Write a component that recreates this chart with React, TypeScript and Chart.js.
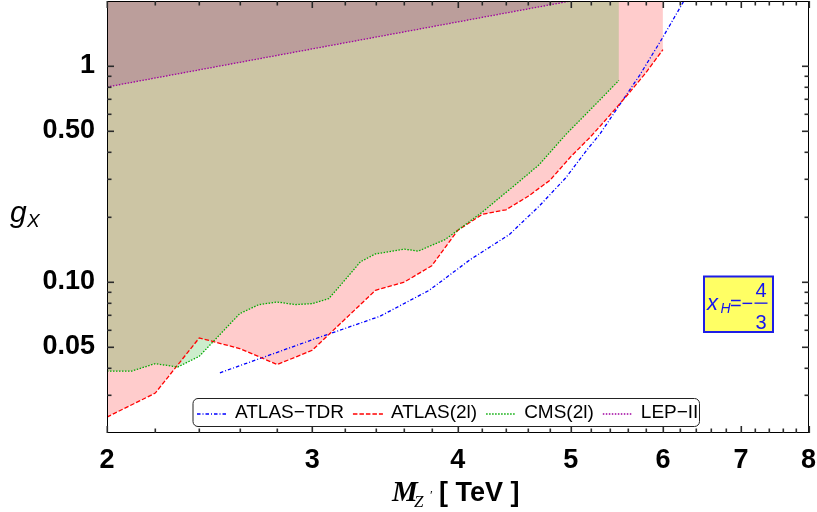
import React, { useEffect, useRef } from "react";
import { Chart, registerables } from "chart.js";
Chart.register(...registerables);

// ---- data ----
const tdrM = [2.5, 3.0, 3.43, 3.78, 4.1, 4.43, 4.7, 4.95, 5.16, 5.3, 5.5, 5.73, 6.0, 6.24, 6.27];
const tdrG = [0.038, 0.054, 0.0694, 0.0915, 0.127, 0.166, 0.225, 0.303, 0.407, 0.486, 0.654, 0.906, 1.36, 1.96, 2.06];

const atlasM = [2.0, 2.2, 2.4, 2.6, 2.8, 3.0, 3.4, 3.6, 3.8, 4.0, 4.2, 4.4, 4.6, 4.8, 5.0, 5.2, 5.4, 5.6, 5.8, 6.0];
const atlasG = [0.0237, 0.0306, 0.0551, 0.0492, 0.0415, 0.0483, 0.0916, 0.1, 0.119, 0.1735, 0.206, 0.216, 0.25, 0.296, 0.38, 0.47, 0.59, 0.74, 0.93, 1.19];

const cmsM = [2.0, 2.1, 2.2, 2.3, 2.4, 2.6, 2.7, 2.8, 2.9, 3.0, 3.1, 3.2, 3.3, 3.4, 3.6, 3.7, 3.8, 3.9, 4.0, 4.2, 4.35, 4.5, 4.7, 4.96, 5.26, 5.5];
const cmsG = [0.0387, 0.0387, 0.0419, 0.0404, 0.0453, 0.0714, 0.0786, 0.0808, 0.0786, 0.0794, 0.0838, 0.102, 0.124, 0.135, 0.142, 0.139, 0.148, 0.157, 0.1735, 0.211, 0.247, 0.287, 0.35, 0.486, 0.67, 0.858];

const lepM = [2.0, 5.0];
const lepG = [0.8, 2.0];

const seriesLabels = ["ATLAS\u2212TDR", "ATLAS(2l)", "CMS(2l)", "LEP\u2212II"];

const xMajorTicks = [2, 3, 4, 5, 6, 7, 8];
const xTickLabels = ["2", "3", "4", "5", "6", "7", "8"];
const xMinorTicks = [2.2, 2.4, 2.6, 2.8, 3.2, 3.4, 3.6, 3.8, 4.2, 4.4, 4.6, 4.8, 5.2, 5.4, 5.6, 5.8, 6.2, 6.4, 6.6, 6.8, 7.2, 7.4, 7.6, 7.8];
const yMajorTicks = [0.05, 0.1, 0.5, 1];
const yTickLabels = ["0.05", "0.10", "0.50", "1"];
const yMinorTicks = [0.03, 0.04, 0.06, 0.07, 0.08, 0.09, 0.2, 0.3, 0.4, 0.6, 0.7, 0.8, 0.9];

const xRange = [2, 8];
const yRange = [0.02, 2.0];

const pts = (xs: number[], ys: number[]) => xs.map((x, i) => ({ x, y: ys[i] }));

// order: controls fill stacking (ATLAS fill first, then CMS, then LEP)
const lineStyles = [
  { color: "rgb(0,0,255)", dash: [3.5, 2, 1, 2], fill: "", order: 3 },
  { color: "rgb(255,0,0)", dash: [4.5, 2], fill: "rgba(255,0,0,0.2)", order: 2 },
  { color: "rgb(0,170,0)", dash: [1.5, 1.5], fill: "rgba(0,165,0,0.2)", order: 1 },
  { color: "rgb(160,0,160)", dash: [1.5, 1.5], fill: "rgba(115,0,115,0.2)", order: 0 },
];

const pixelOf = (scale: any, v: number): number => {
  let p = Number(scale.getPixelForValue(v));
  if (!isFinite(p)) {
    p = scale.left + (scale.right - scale.left) * Math.log(v / scale.min) / Math.log(scale.max / scale.min);
  }
  return p;
};

const decorPlugin = {
  id: "decor",
  afterDraw(chart: any) {
    const { ctx, chartArea, scales } = chart;
    const left = Math.round(chartArea.left);
    const right = Math.round(chartArea.right);
    const top = Math.round(chartArea.top);
    const bottom = Math.round(chartArea.bottom);
    const xs = scales.x;
    const ys = scales.y;
    ctx.save();
    ctx.setLineDash([]);
    ctx.globalAlpha = 1;
    ctx.globalCompositeOperation = "source-over";
    // frame
    ctx.fillStyle = "#000";
    ctx.fillRect(left, top, right - left, 1);
    ctx.fillRect(left, bottom - 1, right - left, 1);
    ctx.fillRect(left, top, 1, bottom - top);
    ctx.fillRect(right - 1, top, 1, bottom - top);
    // ticks (inward, mirrored)
    ctx.fillStyle = "#2a2a2a";
    const xt = (v: number, len: number) => {
      const p = Math.round(pixelOf(xs, v));
      ctx.fillRect(p - 0.5, bottom - len, 1.6, len);
      ctx.fillRect(p - 0.5, top, 1.6, len);
    };
    const yt = (v: number, len: number) => {
      const p = Math.round(pixelOf(ys, v));
      ctx.fillRect(left, p - 0.5, len, 1.6);
      ctx.fillRect(right - len, p - 0.5, len, 1.6);
    };
    xMajorTicks.forEach((v) => xt(v, 7));
    xMinorTicks.forEach((v) => xt(v, 4.5));
    yMajorTicks.forEach((v) => yt(v, 7));
    yMinorTicks.forEach((v) => yt(v, 4.5));

    // legend
    const lx = 193, ly = 398.5, lw = 506.5, lh = 28, r = 5;
    ctx.beginPath();
    ctx.moveTo(lx + r, ly);
    ctx.lineTo(lx + lw - r, ly);
    ctx.arcTo(lx + lw, ly, lx + lw, ly + r, r);
    ctx.lineTo(lx + lw, ly + lh - r);
    ctx.arcTo(lx + lw, ly + lh, lx + lw - r, ly + lh, r);
    ctx.lineTo(lx + r, ly + lh);
    ctx.arcTo(lx, ly + lh, lx, ly + lh - r, r);
    ctx.lineTo(lx, ly + r);
    ctx.arcTo(lx, ly, lx + r, ly, r);
    ctx.closePath();
    ctx.fillStyle = "#fff";
    ctx.fill();
    ctx.strokeStyle = "#222";
    ctx.lineWidth = 1;
    ctx.stroke();
    ctx.font = '19px "Liberation Sans"';
    ctx.textBaseline = "alphabetic";
    ctx.textAlign = "left";
    let cx = 197;
    chart.data.datasets.forEach((ds: any, i: number) => {
      ctx.strokeStyle = lineStyles[i].color;
      ctx.lineWidth = 1.3;
      ctx.setLineDash(lineStyles[i].dash);
      ctx.beginPath();
      ctx.moveTo(cx, 414);
      ctx.lineTo(cx + 30, 414);
      ctx.stroke();
      ctx.setLineDash([]);
      ctx.fillStyle = "#000";
      ctx.fillText(ds.label, cx + 38, 417.5);
      cx += 38 + ctx.measureText(ds.label).width + 9;
    });

    // x_H annotation box
    ctx.fillStyle = "rgb(255,255,100)";
    ctx.fillRect(704, 276.5, 69, 55.5);
    ctx.strokeStyle = "rgb(30,30,230)";
    ctx.lineWidth = 2;
    ctx.strokeRect(704, 276.5, 69, 55.5);
    ctx.fillStyle = "rgb(20,20,240)";
    ctx.font = 'italic 22px "Liberation Sans"';
    ctx.fillText("x", 707, 310);
    ctx.font = 'italic 14px "Liberation Sans"';
    ctx.fillText("H", 720.5, 313);
    ctx.font = '20px "Liberation Sans"';
    ctx.fillText("=", 730, 310);
    ctx.fillText("\u2212", 741.5, 310);
    ctx.textAlign = "center";
    ctx.fillText("4", 761, 297);
    ctx.fillText("3", 761, 328.5);
    ctx.fillRect(754.5, 302.5, 13, 1.3);

    // axis titles
    ctx.textAlign = "left";
    ctx.fillStyle = "#000";
    ctx.font = 'italic 30px "Liberation Sans"';
    ctx.fillText("g", 10, 222);
    ctx.font = 'italic 19px "Liberation Sans"';
    ctx.fillText("X", 27, 226.7);

    ctx.font = 'bold italic 29px "Liberation Serif"';
    ctx.fillText("M", 392, 500.7);
    ctx.font = 'italic 17px "Liberation Serif"';
    ctx.fillText("Z", 414, 507);
    ctx.font = '13px "Liberation Serif"';
    ctx.fillText("\u2032", 430, 499);
    ctx.font = 'bold 27px "Liberation Sans"';
    ctx.fillText("[ TeV ]", 439, 500.7);
    ctx.restore();
  },
};

export default function App() {
  const ref = useRef<HTMLCanvasElement>(null);
  useEffect(() => {
    if (!ref.current) return;
    Chart.defaults.font.family = '"Liberation Sans", Arial, sans-serif';
    const seriesData = [pts(tdrM, tdrG), pts(atlasM, atlasG), pts(cmsM, cmsG), pts(lepM, lepG)];
    const chart = new Chart(ref.current, {
      type: "line",
      data: {
        datasets: seriesData.map((d, i) => ({
          label: seriesLabels[i],
          data: d,
          order: lineStyles[i].order,
          borderColor: lineStyles[i].color,
          borderWidth: 1.3,
          borderDash: lineStyles[i].dash,
          backgroundColor: lineStyles[i].fill || "transparent",
          fill: lineStyles[i].fill ? "end" : false,
          pointRadius: 0,
          tension: 0,
        })),
      },
      options: {
        responsive: false,
        animation: false,
        layout: { padding: { top: 1, right: 8.5, left: 0, bottom: 0 } },
        plugins: {
          legend: { display: false },
          tooltip: { enabled: false },
          filler: { drawTime: "beforeDatasetsDraw" },
        },
        scales: {
          x: {
            type: "logarithmic",
            min: xRange[0],
            max: xRange[1],
            grid: { display: false },
            border: { display: false },
            afterBuildTicks: (s: any) => {
              s.ticks = xMajorTicks.map((v) => ({ value: v }));
            },
            ticks: {
              callback: (_v: any, i: number) => xTickLabels[i],
              font: { size: 27, weight: "bold" },
              color: "#000",
              padding: 3,
              maxRotation: 0,
              autoSkip: false,
            },
            afterFit: (s: any) => {
              s.height = 79;
              s.paddingLeft = 0;
              s.paddingRight = 0;
            },
          },
          y: {
            type: "logarithmic",
            min: yRange[0],
            max: yRange[1],
            grid: { display: false },
            border: { display: false },
            afterBuildTicks: (s: any) => {
              s.ticks = yMajorTicks.map((v) => ({ value: v }));
            },
            ticks: {
              callback: (_v: any, i: number) => yTickLabels[i],
              font: { size: 27, weight: "bold" },
              color: "#000",
              padding: 4,
              autoSkip: false,
            },
            afterFit: (s: any) => {
              s.width = 107;
              s.paddingTop = 0;
              s.paddingBottom = 0;
            },
          },
        },
      } as any,
      plugins: [decorPlugin],
    });
    return () => chart.destroy();
  }, []);
  return (
    <div style={{ position: "absolute", left: 0, top: 0, width: 817, height: 512 }}>
      <canvas ref={ref} width={817} height={512} style={{ display: "block" }} />
    </div>
  );
}
